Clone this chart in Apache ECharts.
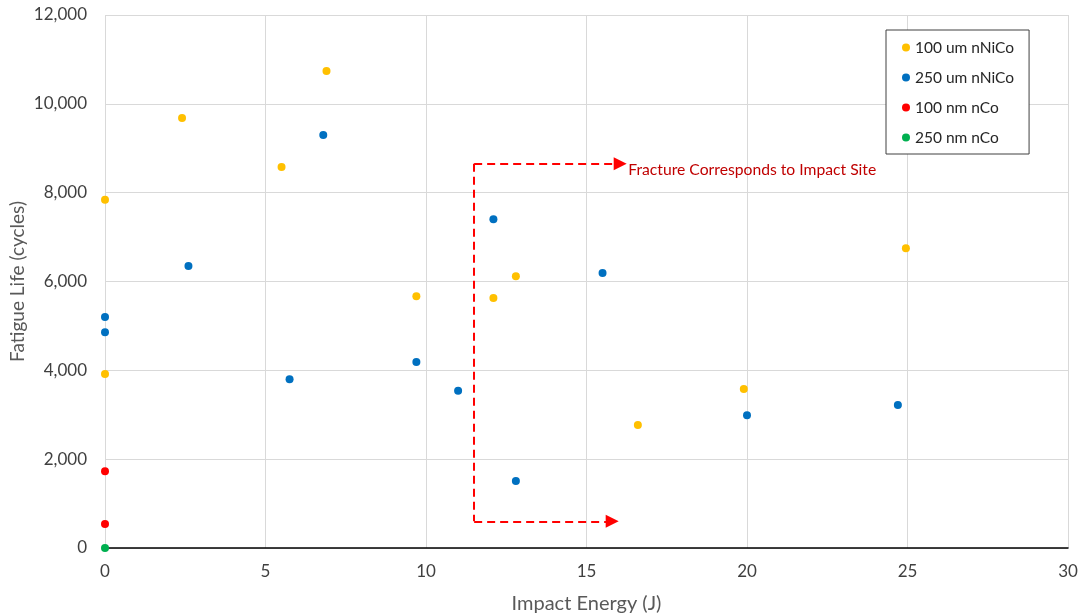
<!DOCTYPE html>
<html>
<head>
<meta charset="utf-8">
<script src="https://cdn.jsdelivr.net/npm/echarts@6/dist/echarts.min.js"></script>
<style>
  html, body { margin: 0; padding: 0; background: #ffffff; }
  #chart { width: 1082px; height: 615px; }
</style>
</head>
<body>
<div id="chart"></div>
<script>
// Impact energy (J) vs. fatigue life (cycles) for each coating
const seriesNames = ['100 um nNiCo', '250 um nNiCo', '100 nm nCo', '250 nm nCo'];
const seriesColors = ['#FFC000', '#0070C0', '#FF0000', '#00B050'];

const nNiCo100 = [
  [0, 7840], [0, 3920], [2.4, 9680], [5.5, 8580], [6.9, 10740],
  [9.7, 5670], [12.1, 5630], [12.8, 6120], [16.6, 2770], [19.9, 3580], [24.95, 6750]
];
const nNiCo250 = [
  [0, 5200], [0, 4860], [2.6, 6350], [5.75, 3800], [6.8, 9300],
  [9.7, 4190], [11.0, 3540], [12.1, 7400], [12.8, 1510], [15.5, 6190], [20.0, 2990], [24.7, 3220]
];
const nCo100 = [[0, 1730], [0, 540]];
const nCo250 = [[0, 0]];

// Annotation bracket: vertical dashed line with two arrows pointing right
const bracketX = 11.5;
const bracketTop = 8650;
const bracketBottom = 600;
const topArrowEnd = 16.05;
const bottomArrowEnd = 15.8;
const annotationText = 'Fracture Corresponds to Impact Site';

const xTicks = { min: 0, max: 30, interval: 5 };
const yTicks = { min: 0, max: 12000, interval: 2000 };

const FONT = 'Lato';

const chart = echarts.init(document.getElementById('chart'));

const datasets = [nNiCo100, nNiCo250, nCo100, nCo250];
const series = datasets.map((d, i) => ({
  name: seriesNames[i],
  type: 'scatter',
  data: d,
  symbol: 'circle',
  symbolSize: 8,
  itemStyle: { color: seriesColors[i], opacity: 1 },
  z: 3
}));

const dashStyle = { color: '#FF0000', width: 2, type: [8, 5] };
series.push({
  name: 'annotation',
  type: 'scatter',
  data: [],
  silent: true,
  markLine: {
    silent: true,
    animation: false,
    symbol: ['none', 'triangle'],
    symbolSize: 13,
    lineStyle: dashStyle,
    emphasis: { disabled: true },
    label: { show: false },
    data: [
      [
        { coord: [bracketX, bracketTop], symbol: 'none' },
        { coord: [bracketX, bracketBottom], symbol: 'none' }
      ],
      [
        { coord: [bracketX, bracketTop] },
        {
          coord: [topArrowEnd, bracketTop],
          label: {
            show: true,
            position: 'end',
            formatter: annotationText,
            color: '#C00000',
            fontFamily: FONT,
            fontSize: 15.7,
            offset: [0, 6],
            distance: 8
          }
        }
      ],
      [
        { coord: [bracketX, bracketBottom] },
        { coord: [bottomArrowEnd, bracketBottom] }
      ]
    ]
  }
});

chart.setOption({
  animation: false,
  backgroundColor: '#ffffff',
  textStyle: { fontFamily: FONT },
  grid: { left: 105, right: 14, top: 15, bottom: 67, containLabel: false, outerBoundsMode: 'none' },
  legend: {
    data: seriesNames,
    orient: 'vertical',
    left: 886,
    top: 30,
    padding: [9, 15, 8, 16],
    itemGap: 13,
    itemWidth: 8,
    itemHeight: 8,
    icon: 'circle',
    borderColor: '#404040',
    borderWidth: 1,
    backgroundColor: '#ffffff',
    textStyle: { fontFamily: FONT, fontSize: 15.5, color: '#262626', lineHeight: 17 }
  },
  xAxis: {
    type: 'value',
    min: xTicks.min,
    max: xTicks.max,
    interval: xTicks.interval,
    name: 'Impact Energy (J)',
    nameLocation: 'middle',
    nameGap: 46,
    nameMoveOverlap: false,
    nameTextStyle: { fontFamily: FONT, fontSize: 20, color: '#595959' },
    axisLine: { lineStyle: { color: '#000000', width: 1.5 } },
    axisTick: { show: false },
    axisLabel: { fontFamily: FONT, fontSize: 17, color: '#404040', margin: 15 },
    splitLine: { show: true, lineStyle: { color: '#D9D9D9', width: 1 } }
  },
  yAxis: {
    type: 'value',
    min: yTicks.min,
    max: yTicks.max,
    interval: yTicks.interval,
    name: 'Fatigue Life (cycles)',
    nameLocation: 'middle',
    nameGap: 78,
    nameMoveOverlap: false,
    nameTextStyle: { fontFamily: FONT, fontSize: 19, color: '#595959' },
    axisLine: { show: false },
    axisTick: { show: false },
    axisLabel: {
      fontFamily: FONT,
      fontSize: 17,
      color: '#404040',
      margin: 18,
      formatter: v => v.toLocaleString('en-US')
    },
    splitLine: { show: true, lineStyle: { color: '#D9D9D9', width: 1 } }
  },
  series: series
});
</script>
</body>
</html>
